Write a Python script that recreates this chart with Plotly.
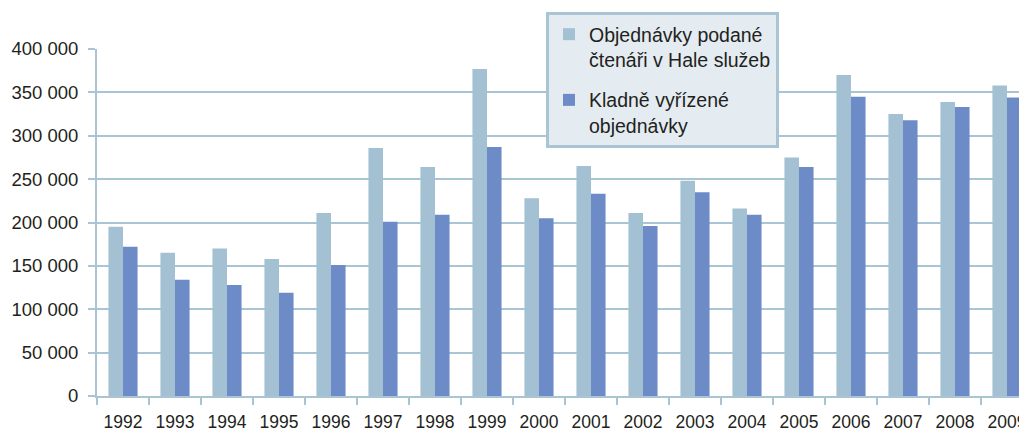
import plotly.graph_objects as go

years = ["1992", "1993", "1994", "1995", "1996", "1997", "1998", "1999", "2000",
         "2001", "2002", "2003", "2004", "2005", "2006", "2007", "2008", "2009"]
submitted = [195000, 165000, 170000, 158000, 211000, 286000, 264000, 377000, 228000,
             265000, 211000, 248000, 216000, 275000, 370000, 325000, 339000, 358000]
approved = [172000, 134000, 128000, 119000, 151000, 201000, 209000, 287000, 205000,
            233000, 196000, 235000, 209000, 264000, 345000, 318000, 333000, 344000]
y_ticks = [0, 50000, 100000, 150000, 200000, 250000, 300000, 350000, 400000]
y_labels = ["0", "50 000", "100 000", "150 000", "200 000", "250 000", "300 000", "350 000", "400 000"]

name1 = "Objednávky podané<br>čtenáři v Hale služeb"
name2 = "Kladně vyřízené<br>objednávky"

grid = "#a9c5d4"
font = "Liberation Sans, Arial, sans-serif"

# page body has an 8px default margin; the figure is sized to fill the window after it
PAGE_OFFSET = 8

fig = go.Figure()
fig.add_trace(go.Bar(x=years, y=submitted, name=name1, marker_color="#a3c1d2",
                     marker_line_width=0, legendgroup="a"))
fig.add_trace(go.Bar(x=years, y=approved, name=name2, marker_color="#6d8bc6",
                     marker_line_width=0, legendgroup="b"))

fig.update_layout(
    width=1027 - PAGE_OFFSET, height=434 - PAGE_OFFSET,
    margin=dict(l=97 - PAGE_OFFSET, r=0, t=49 - PAGE_OFFSET, b=38, autoexpand=False),
    paper_bgcolor="white", plot_bgcolor="white",
    barmode="group", bargap=0.44, bargroupgap=0,
    font=dict(family=font, size=18, color="#231f20"),
    showlegend=True,
    legend=dict(
        x=(546 - 97) / 930, y=(396 - 12) / 347, xanchor="left", yanchor="top",
        bgcolor="#e4ecf2", bordercolor="#a9c5d4", borderwidth=3,
        font=dict(family=font, size=19.5, color="#231f20"),
        valign="top", tracegroupgap=12, itemwidth=30, traceorder="grouped",
    ),
    xaxis=dict(
        type="category", range=[-0.5, 17.385],
        showline=True, linecolor=grid, linewidth=2,
        ticks="outside", tickson="boundaries", ticklen=7, tickcolor=grid, tickwidth=2,
        showgrid=False, tickfont=dict(size=17.5), ticklabelstandoff=9,
    ),
    yaxis=dict(
        range=[0, 400000], tickvals=y_ticks, ticktext=y_labels,
        showline=True, linecolor=grid, linewidth=2,
        ticks="outside", ticklen=7, tickcolor=grid, tickwidth=2,
        showgrid=True, gridcolor=grid, gridwidth=2, zeroline=False,
        tickfont=dict(size=18.5), ticklabelstandoff=6,
    ),
)

fig.write_html("out.html")
